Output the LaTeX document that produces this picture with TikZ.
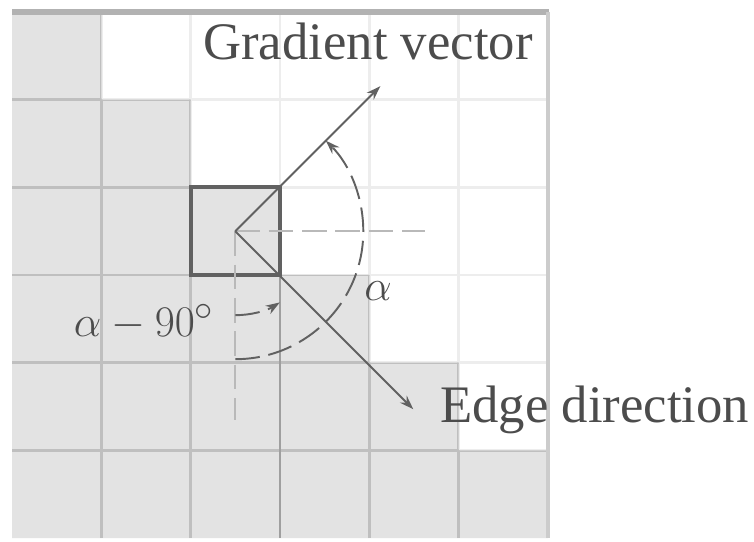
\documentclass[tikz,border=0pt]{standalone}
\usepackage{fontspec}
\setmainfont{Liberation Serif}
\usepackage{tikz}
\usetikzlibrary{arrows.meta,calc}

\begin{document}
\begin{tikzpicture}[x=0.02cm, y=0.02cm, >={Stealth[length=8pt, width=5.5pt]},
    lbl/.style={font=\fontsize{30}{34}\selectfont, text=black!70, inner sep=0pt},
    vec/.style={->, black!62, line width=1.1pt},
    dashline/.style={gray!55, line width=1pt, dash pattern=on 14pt off 5pt},
    anglearc/.style={->, black!62, line width=1.1pt, dash pattern=on 14pt off 5pt}]
  \useasboundingbox (0,0) rectangle (754,541);
  \fill[gray!22] (12,529) -- (101.3,529) -- (101.3,441.3) -- (190.7,441.3) -- (190.7,353.7)
        -- (280,353.7) -- (280,266) -- (369.3,266) -- (369.3,178.3) -- (458.7,178.3)
        -- (458.7,90.7) -- (548,90.7) -- (548,3) -- (12,3) -- cycle;
  \foreach \i in {1,...,5} {
    \draw[gray!14, line width=1.5pt] ({12+\i*89.33},3) -- ({12+\i*89.33},529);
    \draw[gray!14, line width=1.5pt] (12,{3+\i*87.67}) -- (548,{3+\i*87.67});
  }
  \begin{scope}
    \clip (12,529) -- (101.3,529) -- (101.3,441.3) -- (190.7,441.3) -- (190.7,353.7)
        -- (280,353.7) -- (280,266) -- (369.3,266) -- (369.3,178.3) -- (458.7,178.3)
        -- (458.7,90.7) -- (548,90.7) -- (548,3) -- (12,3) -- cycle;
    \foreach \i in {1,...,5} {
      \draw[gray!50, line width=1.5pt] ({12+\i*89.33},3) -- ({12+\i*89.33},529);
      \draw[gray!50, line width=1.5pt] (12,{3+\i*87.67}) -- (548,{3+\i*87.67});
    }
  \end{scope}
  \draw[gray!75, line width=1.5pt] (280,3) -- (280,266);
  \draw[gray!60, line width=3pt] (12,529) -- (549,529);
  \draw[gray!40, line width=2.5pt] (548,529) -- (548,3);
  \draw[black!62, line width=2.3pt] (190.7,353.7) rectangle (280,266);

  \coordinate (c) at (235.3,309.8);
  \coordinate (gtip) at (380.3,454.8);
  \coordinate (etip) at (413.3,131.8);
  \coordinate (hend) at (425,309.8);
  \coordinate (vend) at (235.3,121);

  \draw[dashline] (c) -- (hend);
  \draw[dashline] (c) -- (vend);
  \draw[vec] (c) -- (gtip);
  \draw[vec] (c) -- (etip);
  \draw[anglearc] ($(c)+(-90:128)$) arc[start angle=-90, end angle=45, radius=128];
  \draw[anglearc] ($(c)+(-90:84)$) arc[start angle=-90, end angle=-58, radius=84];

  \node[lbl, anchor=base west] (lblgrad) at (203,481) {Gradient vector};
  \node[lbl, anchor=base west] (lbledge) at (440,118) {Edge direction};
  \node[lbl] (lblalpha) at (378,250) {$\alpha$};
  \node[lbl] (lbldiff) at (144,219) {$\alpha-90^\circ$};
\end{tikzpicture}
\end{document}
